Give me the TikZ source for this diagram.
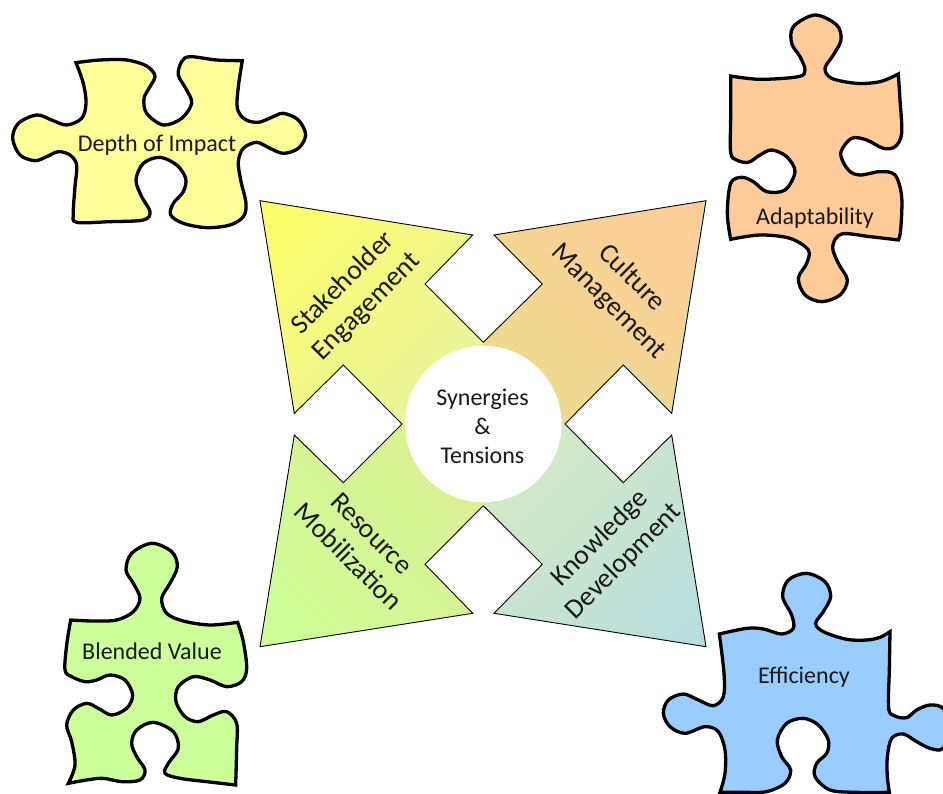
\documentclass[tikz,border=0pt]{standalone}
\usepackage{fontspec}
\setmainfont{Carlito}
\definecolor{pieceyellow}{HTML}{FFFF99}
\definecolor{pieceorange}{HTML}{FFCC99}
\definecolor{piecegreen}{HTML}{CCFF99}
\definecolor{pieceblue}{HTML}{99CCFF}
\definecolor{cornerTL}{HTML}{FFFF66}
\definecolor{cornerTR}{HTML}{FFCC99}
\definecolor{cornerBL}{HTML}{CCFF99}
\definecolor{cornerBR}{HTML}{B7DDE0}
\definecolor{midTL}{HTML}{E6F2A6}
\definecolor{midTR}{HTML}{EBDD8C}
\definecolor{midBL}{HTML}{DDEC91}
\definecolor{midBR}{HTML}{D7ECC0}
\definecolor{edgeTR}{HTML}{C5E5C0}
\tikzset{
  piece/.style={draw=black,line width=3.3pt,line join=miter,miter limit=6,tension=0.55},
  zoomed/.style={x=0.33333pt,y=-0.33333pt},
  piecelabel/.style={text=black!90,font=\fontsize{24}{28}\selectfont,inner sep=0pt},
  arrowlabel/.style={text=black!90,font=\fontsize{27.6}{33}\selectfont,align=center,inner sep=0pt},
  hubdisc/.style={circle,fill=white,minimum size=156.6pt,inner sep=0pt},
  hublabel/.style={align=center,inner sep=0pt,text=black!90,font=\fontsize{24}{29}\selectfont},
  arrowedge/.style={draw=black,line width=0.9pt,line join=miter},
}
\def\tlarrow{(260,200.7) -- (472.7,235) -- (425,284) -- (483.3,342.4) -- (483.3,424) -- (402,424) -- (343.3,365) -- (294.3,413.5) -- cycle}
\def\trarrow{(706,200.7) -- (494,235) -- (542.3,284) -- (483.3,342.4) -- (483.3,424) -- (565,424) -- (623.3,365) -- (671.7,413.5) -- cycle}
\def\blarrow{(260,646.7) -- (472.7,613.3) -- (425,564.3) -- (483.3,505.7) -- (483.3,424) -- (402,424) -- (343.3,482.7) -- (294.3,435) -- cycle}
\def\brarrow{(706,646.7) -- (494,613.3) -- (542.3,564.3) -- (483.3,505.7) -- (483.3,424) -- (565,424) -- (623.3,482.7) -- (671.7,435) -- cycle}
\newcommand{\gradarrow}[4]{% path, canvas angle, corner colour, mid colour
  \begin{scope}
    \clip #1;
    \shade[transform canvas={rotate around={#2:(483.3,424)}},left color=#3,right color=#4] (167.3,80) rectangle (483.3,770);
  \end{scope}}
\begin{document}
\begin{tikzpicture}[x=1pt,y=-1pt]
\useasboundingbox (0,0) rectangle (943,794);
\clip (0,0) rectangle (943,794);
% central arrows
\gradarrow{\tlarrow}{-45}{cornerTL}{midTL}
\gradarrow{\trarrow}{-135}{cornerTR}{midTR}
\gradarrow{\blarrow}{45}{cornerBL}{midBL}
\gradarrow{\brarrow}{135}{cornerBR}{midBR}
\begin{scope}
  \clip \trarrow;
  \draw[edgeTR,line width=3.5pt] (706,200.7) -- (671.7,413.5) -- (623.3,365);
\end{scope}
\draw[arrowedge] (402,424) -- (343.3,365) -- (294.3,413.5) -- (260,200.7) -- (472.7,235) -- (425,284) -- (483.3,342.4);
\draw[arrowedge] (483.3,342.4) -- (542.3,284) -- (494,235) -- (706,200.7) -- (671.7,413.5) -- (623.3,365) -- (565,424);
\draw[arrowedge] (565,424) -- (623.3,482.7) -- (671.7,435) -- (706,646.7) -- (494,613.3) -- (542.3,564.3) -- (483.3,505.7);
\draw[arrowedge] (483.3,505.7) -- (425,564.3) -- (472.7,613.3) -- (260,646.7) -- (294.3,435) -- (343.3,482.7) -- (402,424);
\node[hubdisc] (hub) at (483.3,424) {};
\node[hublabel] (hubtext) at (482.5,426) {Synergies\\\&\\Tensions};
\node[arrowlabel,rotate=45] (stake) at (355,295) {Stakeholder\\Engagement};
\node[arrowlabel,rotate=-45] (culture) at (620,290) {Culture\\Management};
\node[arrowlabel,rotate=-45] (resource) at (360,545) {Resource\\Mobilization};
\node[arrowlabel,rotate=45] (knowledge) at (612,550) {Knowledge\\Development};
% Depth of Impact
\begin{scope}[shift={(0pt,-40pt)},zoomed]
\draw[piece,fill=pieceyellow] plot[smooth] coordinates {(228,68)(300,60)(380,60)(440,78)(465,108)(450,140)(432,175)(440,220)(490,255)(545,235)(575,190)(560,150)(535,105)(545,65)(570,50)(650,60)(727,62)}
 -- plot[smooth] coordinates {(727,62)(715,140)(712,205)(735,238)(775,247)(815,232)(850,220)(895,240)(917,285)(895,325)(850,340)(810,325)(770,307)(730,325)(715,365)(722,420)(738,490)(730,530)(690,555)(620,563)(550,550)(512,525)(520,490)(550,455)(557,415)(530,375)(480,352)(430,370)(408,420)(425,470)(450,515)(430,540)(330,545)(230,547)(220,520)(225,440)(230,375)(210,345)(175,335)(140,350)(105,362)(60,345)(38,295)(55,250)(110,225)(155,240)(200,255)(245,235)(258,190)(250,130)(228,68)} -- cycle;
\end{scope}
% Adaptability
\begin{scope}[shift={(710pt,0pt)},zoomed]
\draw[piece,fill=pieceorange] plot[smooth] coordinates {(62,228)(150,238)(265,230)(285,210)(270,170)(245,130)(250,80)(315,45)(380,75)(393,120)(370,165)(345,205)(365,235)(440,250)(510,245)(565,222)}
 -- plot[smooth] coordinates {(565,222)(570,300)(575,400)(555,440)(520,445)(470,420)(425,415)(392,460)(415,510)(450,525)(510,515)(555,525)(575,590)(572,690)(565,720)}
 -- plot[smooth] coordinates {(565,720)(480,710)(395,702)(368,740)(385,790)(412,840)(390,885)(335,905)(285,885)(265,835)(290,790)(295,750)(240,715)(150,705)(62,718)}
 -- plot[smooth] coordinates {(62,718)(52,640)(62,550)(95,532)(130,545)(170,575)(225,570)(255,515)(230,470)(185,450)(150,465)(115,487)(80,480)(62,458)(62,350)(62,228)} -- cycle;
\end{scope}
% Blended Value
\begin{scope}[shift={(50pt,-535pt)},zoomed]
\draw[piece,fill=piecegreen] plot[smooth] coordinates {(62,255)(130,258)(200,255)(250,230)(270,190)(250,145)(228,105)(245,55)(305,25)(365,50)(382,95)(360,145)(335,190)(350,235)(400,258)(480,270)(563,262)}
 -- plot[smooth] coordinates {(563,262)(580,320)(590,400)(575,440)(530,455)(480,435)(430,425)(385,455)(378,500)(405,545)(445,560)(490,540)(530,530)(560,565)(560,640)(557,750)}
 -- plot[smooth] coordinates {(557,750)(470,740)(390,730)(345,715)(355,685)(385,640)(370,590)(310,562)(260,585)(245,625)(260,665)(285,705)(270,735)(215,740)(150,730)(55,745)}
 -- plot[smooth] coordinates {(55,745)(75,690)(65,620)(50,570)(70,525)(110,505)(145,520)(185,540)(230,520)(248,480)(225,435)(180,420)(140,435)(105,440)(65,425)(45,405)(50,330)(62,255)} -- cycle;
\end{scope}
% Efficiency
\begin{scope}[shift={(650pt,-560pt)},zoomed]
\draw[piece,fill=pieceblue] plot[smooth] coordinates {(208,222)(290,205)(340,207)(395,222)(430,205)(425,165)(398,110)(415,60)(470,40)(525,65)(542,110)(520,155)(497,190)(520,215)(590,238)(650,240)(690,232)(720,215)}
 -- plot[smooth] coordinates {(720,215)(718,330)(716,445)(735,468)(770,473)(800,450)(840,435)(879,445)(905,500)(879,565)(840,565)(800,545)(760,522)(725,535)(712,590)(712,650)(718,697)}
 -- plot[smooth] coordinates {(718,697)(620,697)(540,690)(495,650)(500,610)(530,580)(535,540)(505,495)(460,475)(410,490)(382,540)(395,590)(422,630)(405,670)(350,695)(280,697)(210,697)}
 -- plot[smooth] coordinates {(210,697)(225,640)(225,570)(205,515)(165,500)(105,520)(60,500)(40,460)(55,420)(100,402)(145,420)(190,437)(220,410)(222,340)(208,222)} -- cycle;
\end{scope}
\node[piecelabel] (depth) at (157,145) {Depth of Impact};
\node[piecelabel] (adapt) at (815,218) {Adaptability};
\node[piecelabel] (blended) at (152,651) {Blended Value};
\node[piecelabel] (effic) at (804,677) {Efficiency};
\end{tikzpicture}
\end{document}
